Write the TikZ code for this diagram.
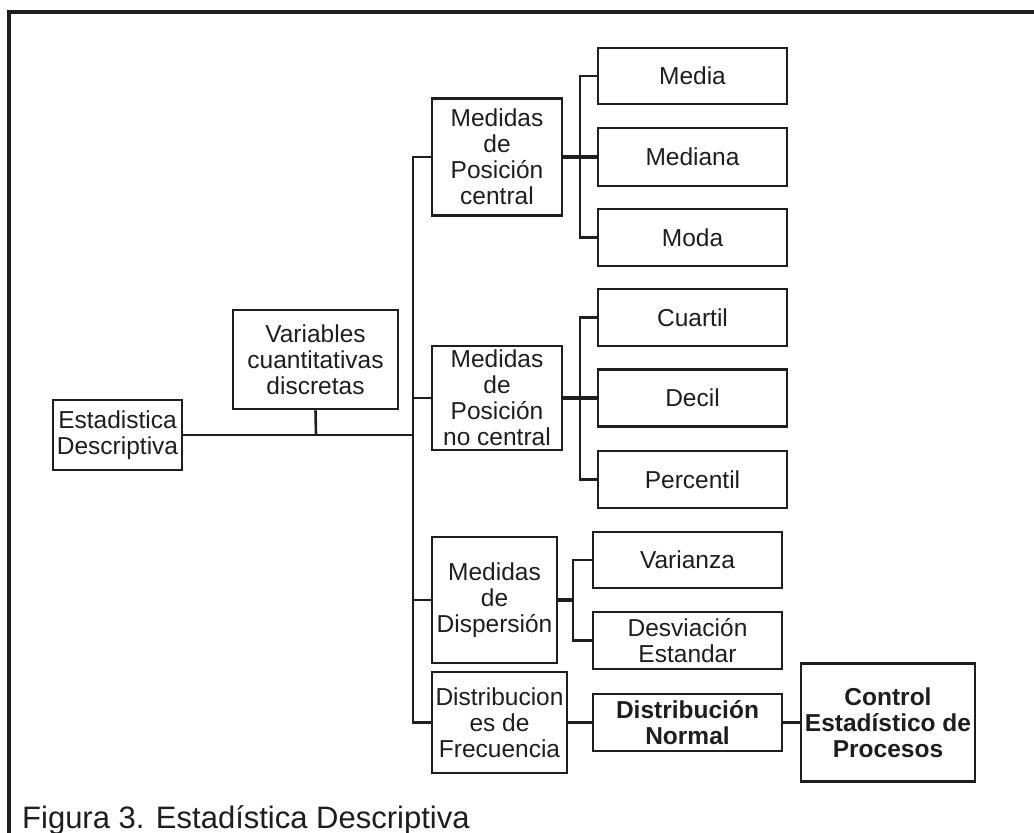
\documentclass[tikz,border=0pt]{standalone}
\usepackage{fontspec}
\setmainfont{Liberation Sans}
\definecolor{ink}{RGB}{30,30,30}
\begin{document}
\begin{tikzpicture}[x=1pt,y=-1pt,
  every node/.style={text=ink},
  box/.style={draw=ink,line width=2.6pt,inner sep=0pt,align=center,
    font=\fontsize{24.5}{26}\selectfont},
  boldbox/.style={box,font=\fontsize{24.5}{26}\selectfont\bfseries},
  link/.style={draw=ink,line width=2.6pt},
  thicklink/.style={draw=ink,line width=3.3pt}]
\useasboundingbox (0,0) rectangle (1034,833);
% outer frame (open to the right and bottom)
\draw[ink,line width=3.2pt] (9,833) -- (9,12) -- (1034,12);

% root and first level
\node[box,minimum width=129pt,minimum height=70pt] (est) at (117.5,435) {Estadistica\\Descriptiva};
\node[box,minimum width=165pt,minimum height=99pt] (var) at (315.5,359.5) {Variables\\cuantitativas\\discretas};

% measure groups
\node[box,minimum width=130pt,minimum height=117pt] (pc) at (497,157) {Medidas\\de\\Posición\\central};
\node[box,minimum width=130pt,minimum height=104pt] (pnc) at (497,398) {Medidas\\de\\Posición\\no central};
\node[box,minimum width=125pt,minimum height=126pt] (disp) at (494.5,600) {Medidas\\de\\Dispersión};
\node[box,minimum width=135pt,minimum height=101pt] (dfrec) at (499.5,722.5) {Distribucion\\es de\\Frecuencia};

% leaves
\node[box,minimum width=189pt,minimum height=56pt] (media) at (692.5,76) {Media};
\node[box,minimum width=189pt,minimum height=58pt] (mediana) at (692.5,157) {Mediana};
\node[box,minimum width=189pt,minimum height=57pt] (moda) at (692.5,237.5) {Moda};
\node[box,minimum width=189pt,minimum height=57pt] (cuartil) at (692.5,317.5) {Cuartil};
\node[box,minimum width=189pt,minimum height=57pt] (decil) at (692.5,398) {Decil};
\node[box,minimum width=189pt,minimum height=57pt] (percentil) at (692.5,479.5) {Percentil};
\node[box,minimum width=189pt,minimum height=56pt] (varianza) at (687.5,560) {Varianza};
\node[box,minimum width=189pt,minimum height=57pt] (desv) at (687.5,640.5) {Desviación\\Estandar};
\node[boldbox,minimum width=189pt,minimum height=57pt] (dnorm) at (687.5,722.5) {Distribución\\Normal};
\node[boldbox,minimum width=174pt,minimum height=118pt] (control) at (888,722.5) {Control\\Estadístico de\\Procesos};

% junction points
\coordinate (jvar) at (316,435);
\coordinate (trunkA) at (413,157);
\coordinate (trunkB) at (413,398);
\coordinate (trunkC) at (413,435);
\coordinate (trunkD) at (413,600);
\coordinate (trunkE) at (413,722.5);
\coordinate (subA) at (580,157);
\coordinate (subB) at (580,398);
\coordinate (subC) at (573,600);

% root connectors
\draw[link] (est.east) -- (trunkC);
\draw[link] (var.south) -- (jvar);
\draw[link] (pc.west) -- (trunkA) -- (trunkE) -- (dfrec.west);
\draw[link] (trunkB) -- (pnc.west);
\draw[link] (trunkD) -- (disp.west);

% central position measures
\draw[thicklink] (pc.east) -- (mediana.west);
\draw[link] (media.west) -| (subA) |- (moda.west);

% non-central position measures
\draw[thicklink] (pnc.east) -- (decil.west);
\draw[link] (cuartil.west) -| (subB) |- (percentil.west);

% dispersion measures
\draw[thicklink] (disp.east) -- (subC);
\draw[link] (varianza.west) -| (subC) |- (desv.west);

% frequency distributions
\draw[thicklink] (dfrec.east) -- (dnorm.west);
\draw[link] (dnorm.east) -- (control.west);

% caption
\node[anchor=base west,inner sep=0pt,font=\fontsize{31}{33}\selectfont] (cap) at (22,828) {Figura 3. Estadística Descriptiva};
\end{tikzpicture}
\end{document}
